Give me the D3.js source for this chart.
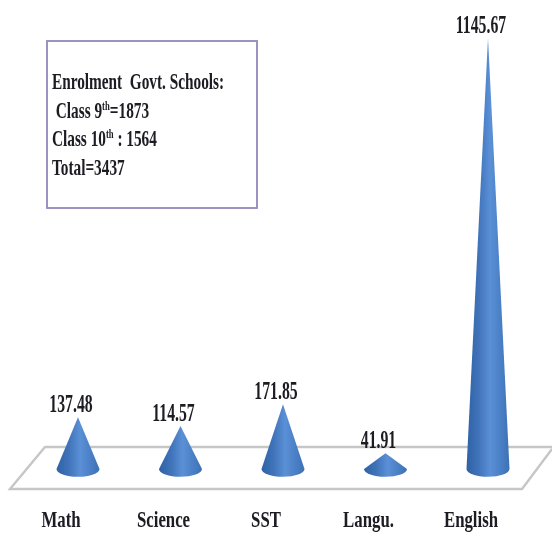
<!DOCTYPE html>
<html>
<head>
<meta charset="utf-8">
<script src="https://cdn.jsdelivr.net/npm/d3@7"></script>
<style>
html,body{margin:0;padding:0;background:#fff;overflow:hidden}
svg{display:block}
text{font-family:"Liberation Serif",serif;font-weight:bold;fill:#1a1a20}
</style>
</head>
<body>
<svg id="chart" width="552" height="533"></svg>
<script>
const categories = ["Math","Science","SST","Langu.","English"];
const values = [137.48,114.57,171.85,41.91,1145.67];
const noteLines = [
  [["Enrolment  Govt. Schools:"]],
  [[" Class 9"],["th","sup"],["=1873"]],
  [["Class 10"],["th","sup"],[" : 1564"]],
  [["Total=3437"]]
];

const svg = d3.select("#chart");
const x = d3.scalePoint().domain(categories).range([78,488]);
const y = d3.scaleLinear().domain([0,d3.max(values)]).range([469,38]);
const rx = 21.5, ry = 7.8;

const defs = svg.append("defs");
const grad = defs.append("linearGradient").attr("id","cone").attr("x1",0).attr("x2",1).attr("y1",0).attr("y2",0);
[[0,"#2f62a6"],[0.28,"#3f73b9"],[0.55,"#5b90d6"],[0.8,"#4a7fc5"],[1,"#3d71b3"]].forEach(d=>
  grad.append("stop").attr("offset",d[0]).attr("stop-color",d[1]));
const soft = defs.append("filter").attr("id","soft").attr("x","-5%").attr("y","-20%").attr("width","110%").attr("height","140%");
soft.append("feGaussianBlur").attr("stdDeviation",0.55);
const softMark = defs.append("filter").attr("id","softMark").attr("x","-10%").attr("y","-10%").attr("width","120%").attr("height","120%");
softMark.append("feGaussianBlur").attr("stdDeviation",0.5);

// floor
svg.append("path")
  .attr("d",d3.line()([[552,447],[45,447],[10,489],[522,489],[552,449]]))
  .attr("fill","none").attr("stroke","#c6c6c6").attr("stroke-width",2.4)
  .attr("filter","url(#softMark)");

// note box
svg.append("rect").attr("x",47).attr("y",41).attr("width",210).attr("height",167)
  .attr("fill","#fff").attr("stroke","#9488b8").attr("stroke-width",1.8);
const noteY = d3.scalePoint().domain(d3.range(noteLines.length)).range([89,175]);
const noteG = svg.append("g").attr("filter","url(#soft)");
noteLines.forEach((parts,i)=>{
  const t = noteG.append("text")
    .attr("transform",`translate(52,${noteY(i)}) scale(0.665,1)`)
    .attr("font-size",23).style("white-space","pre");
  parts.forEach(p=>{
    const s = t.append("tspan").text(p[0]);
    if(p[1]==="sup") s.attr("font-size",13).attr("dy",-8);
    else if(t.selectAll("tspan").size()>1) s.attr("dy",8);
  });
});

// cones
const rows = categories.map((c,i)=>({c,v:values[i]}));
svg.append("g").attr("filter","url(#softMark)").selectAll("path")
  .data(rows)
  .join("path")
  .attr("fill","url(#cone)")
  .attr("d",d=>`M${x(d.c)-rx},${y(0)} L${x(d.c)},${y(d.v)} L${x(d.c)+rx},${y(0)} A${rx},${ry} 0 0 1 ${x(d.c)-rx},${y(0)} Z`);

// value labels
svg.append("g").attr("filter","url(#soft)").selectAll("text")
  .data(rows)
  .join("text")
  .attr("transform",d=>`translate(${x(d.c)-7},${y(d.v)-5}) scale(0.63,1)`)
  .attr("text-anchor","middle").attr("font-size",25)
  .text(d=>d.v.toFixed(2));

// category labels
svg.append("g").attr("filter","url(#soft)").selectAll("text")
  .data(categories)
  .join("text")
  .attr("transform",d=>`translate(${x(d)-17},527) scale(0.7,1)`)
  .attr("text-anchor","middle").attr("font-size",24)
  .text(d=>d);
</script>
</body>
</html>
